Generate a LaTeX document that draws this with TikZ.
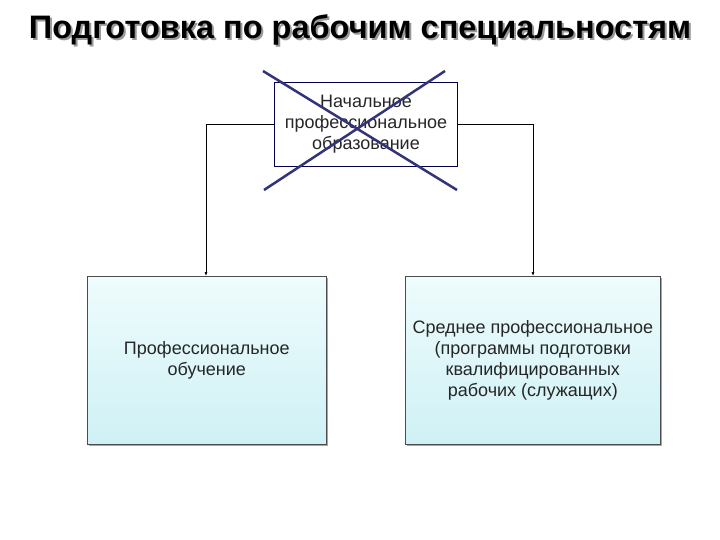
\documentclass[tikz,border=0pt]{standalone}
\usepackage{fontspec}
\setmainfont{Liberation Sans}
\usetikzlibrary{arrows.meta}
\definecolor{ltop}{HTML}{EEFCFD}
\definecolor{lbot}{HTML}{CFF1F5}
\begin{document}
\begin{tikzpicture}[x=1pt,y=-1pt,
  lbox/.style={draw=black!70,line width=0.6pt,top color=ltop,bottom color=lbot,anchor=north west,align=center,font=\fontsize{18}{21}\selectfont,text=black!85},
  conn/.style={line width=0.6pt,-{Latex[length=4pt,width=3pt]}},
  cross/.style={draw=blue!35!black!80,line width=2.5pt}]
\useasboundingbox (0,0) rectangle (720,540);
\fill[white] (0,0) rectangle (720,540);
% title
\node[font=\bfseries\fontsize{32.5}{36}\selectfont,text=black!40] at (362,32) {Подготовка по рабочим специальностям};
\node[font=\bfseries\fontsize{32.5}{36}\selectfont,text=black] (title) at (360,30) {Подготовка по рабочим специальностям};
% top box
\node[draw=blue!30!black,line width=1pt,fill=white,minimum width=183pt,minimum height=84pt,anchor=north west,align=center,font=\fontsize{18}{21}\selectfont,text=black!85,inner sep=0pt] (top) at (274,82) {Начальное\\профессиональное\\образование};
% shadows
\fill[black!35] (89,278) rectangle (328,446);
\fill[black!35] (407,278) rectangle (662,446);
\node[lbox,minimum width=239pt,minimum height=168pt] (L) at (87,276) {Профессиональное\\обучение};
\node[lbox,minimum width=255pt,minimum height=168pt] (R) at (405,276) {Среднее профессиональное\\(программы подготовки\\квалифицированных\\рабочих (служащих)};
% connectors
\draw[conn] (top.west |- 0,124) -| (L.north -| 206,0);
\draw[conn] (top.east |- 0,124) -| (R.north -| 533,0);
% cross
\coordinate (c1) at (263,71); \coordinate (c2) at (457,190);
\coordinate (c3) at (445,71); \coordinate (c4) at (264,190);
\draw[cross] (c1) -- (c2);
\draw[cross] (c3) -- (c4);
\end{tikzpicture}
\end{document}
